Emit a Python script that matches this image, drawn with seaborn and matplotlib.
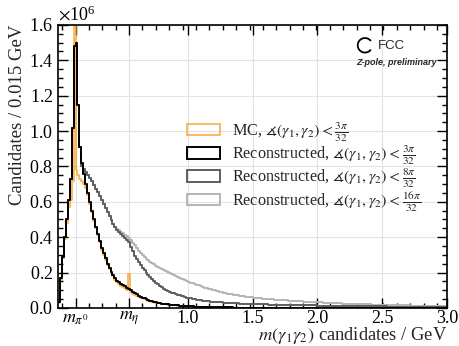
import numpy as np
import pandas as pd
import matplotlib
matplotlib.use("Agg")
import matplotlib.pyplot as plt
import seaborn as sns
from matplotlib.ticker import AutoMinorLocator, ScalarFormatter, FixedLocator, FixedFormatter
from matplotlib.patches import Arc, Rectangle

# ---- binning: 0.015 GeV bins from 0 to 3 GeV ----
BIN_WIDTH = 0.015
X_MIN, X_MAX = 0.0, 3.0
SCALE = 1e6  # candidate counts below are in millions

M_PI0 = 0.1349768
M_ETA = 0.547862

labels = [
    r"MC, $\measuredangle(\gamma_1, \gamma_2) < \frac{3\pi}{32}$",
    r"Reconstructed, $\measuredangle(\gamma_1, \gamma_2) < \frac{3\pi}{32}$",
    r"Reconstructed, $\measuredangle(\gamma_1, \gamma_2) < \frac{8\pi}{32}$",
    r"Reconstructed, $\measuredangle(\gamma_1, \gamma_2) < \frac{16\pi}{32}$",
]

# MC truth-matched pairs, opening angle < 3pi/32
mc_3pi = [
    0.030, 0.16, 0.28, 0.39, 0.48, 0.57, 0.61, 0.72, 2.40, 0.78,
    0.75, 0.73, 0.72, 0.70, 0.68, 0.64, 0.59, 0.54, 0.49, 0.45,
    0.41, 0.37, 0.33, 0.30, 0.27, 0.245, 0.22, 0.198, 0.178, 0.160,
    0.146, 0.135, 0.126, 0.118, 0.110, 0.102, 0.190, 0.090, 0.081, 0.074,
    0.068, 0.063, 0.058, 0.054, 0.050, 0.046, 0.042, 0.039, 0.035, 0.032,
    0.030, 0.028, 0.026, 0.024, 0.022, 0.020, 0.019, 0.017, 0.016, 0.015,
    0.014, 0.013, 0.012, 0.011, 0.010, 0.010, 0.009, 0.0088, 0.0083, 0.0078,
    0.0074, 0.0070, 0.0065, 0.0061, 0.0058, 0.0054, 0.0051, 0.0048, 0.0045, 0.0043,
    0.0040, 0.0038, 0.0036, 0.0034, 0.0032, 0.0030, 0.0028, 0.0026, 0.0025, 0.0024,
    0.0023, 0.0022, 0.0021, 0.0020, 0.0019, 0.0018, 0.0017, 0.0016, 0.0015, 0.0014,
    0.0014, 0.0013, 0.0013, 0.0012, 0.0012, 0.0011, 0.0011, 0.0010, 0.0010, 0.0010,
    0.0009, 0.0009, 0.0009, 0.0009, 0.0008, 0.0008, 0.0008, 0.0008, 0.0007, 0.0007,
    0.0007, 0.0007, 0.0007, 0.0006, 0.0006, 0.0006, 0.0006, 0.0006, 0.0006, 0.0005,
    0.0005, 0.0005, 0.0005, 0.0005, 0.0005, 0.0005, 0.0004, 0.0004, 0.0004, 0.0004,
    0.0004, 0.0004, 0.0004, 0.0004, 0.0004, 0.0003, 0.0003, 0.0003, 0.0003, 0.0003,
    0.0003, 0.0003, 0.0003, 0.0003, 0.0003, 0.0003, 0.0003, 0.0003, 0.0002, 0.0002,
    0.0002, 0.0002, 0.0002, 0.0002, 0.0002, 0.0002, 0.0002, 0.0002, 0.0002, 0.0002,
    0.0002, 0.0002, 0.0002, 0.0002, 0.0002, 0.0002, 0.0002, 0.0002, 0.0002, 0.0001,
    0.0001, 0.0001, 0.0001, 0.0001, 0.0001, 0.0001, 0.0001, 0.0001, 0.0001, 0.0001,
    0.0001, 0.0001, 0.0001, 0.0001, 0.0001, 0.0001, 0.0001, 0.0001, 0.0001, 0.0001,
]

# reconstructed pairs, opening angle < 3pi/32
reco_3pi = [
    0.035, 0.17, 0.29, 0.40, 0.50, 0.61, 0.73, 1.02, 1.48, 1.50,
    1.15, 0.91, 0.82, 0.76, 0.70, 0.65, 0.60, 0.55, 0.50, 0.46,
    0.42, 0.38, 0.34, 0.31, 0.28, 0.25, 0.225, 0.205, 0.185, 0.168,
    0.155, 0.145, 0.137, 0.130, 0.122, 0.115, 0.108, 0.100, 0.092, 0.084,
    0.077, 0.070, 0.064, 0.059, 0.054, 0.049, 0.045, 0.041, 0.037, 0.034,
    0.031, 0.029, 0.027, 0.025, 0.023, 0.021, 0.020, 0.018, 0.017, 0.016,
    0.015, 0.014, 0.013, 0.012, 0.011, 0.011, 0.010, 0.0095, 0.009, 0.0085,
    0.0080, 0.0075, 0.0070, 0.0066, 0.0062, 0.0058, 0.0055, 0.0052, 0.0049, 0.0046,
    0.0043, 0.0040, 0.0038, 0.0036, 0.0034, 0.0032, 0.0030, 0.0028, 0.0026, 0.0025,
    0.0024, 0.0023, 0.0022, 0.0021, 0.0020, 0.0019, 0.0018, 0.0017, 0.0016, 0.0015,
    0.0015, 0.0014, 0.0014, 0.0013, 0.0013, 0.0012, 0.0012, 0.0011, 0.0011, 0.0011,
    0.0010, 0.0010, 0.0010, 0.0009, 0.0009, 0.0009, 0.0009, 0.0008, 0.0008, 0.0008,
    0.0008, 0.0007, 0.0007, 0.0007, 0.0007, 0.0007, 0.0006, 0.0006, 0.0006, 0.0006,
    0.0006, 0.0006, 0.0005, 0.0005, 0.0005, 0.0005, 0.0005, 0.0005, 0.0005, 0.0004,
    0.0004, 0.0004, 0.0004, 0.0004, 0.0004, 0.0004, 0.0004, 0.0004, 0.0003, 0.0003,
    0.0003, 0.0003, 0.0003, 0.0003, 0.0003, 0.0003, 0.0003, 0.0003, 0.0003, 0.0003,
    0.0003, 0.0002, 0.0002, 0.0002, 0.0002, 0.0002, 0.0002, 0.0002, 0.0002, 0.0002,
    0.0002, 0.0002, 0.0002, 0.0002, 0.0002, 0.0002, 0.0002, 0.0002, 0.0002, 0.0002,
    0.0002, 0.0002, 0.0001, 0.0001, 0.0001, 0.0001, 0.0001, 0.0001, 0.0001, 0.0001,
    0.0001, 0.0001, 0.0001, 0.0001, 0.0001, 0.0001, 0.0001, 0.0001, 0.0001, 0.0001,
]

# reconstructed pairs, opening angle < 8pi/32
reco_8pi = [
    0.035, 0.17, 0.29, 0.40, 0.50, 0.61, 0.73, 1.02, 1.48, 1.50,
    1.15, 0.91, 0.80, 0.785, 0.77, 0.752, 0.735, 0.715, 0.695, 0.675,
    0.653, 0.632, 0.610, 0.588, 0.565, 0.542, 0.518, 0.496, 0.475, 0.457,
    0.443, 0.431, 0.420, 0.409, 0.398, 0.386, 0.372, 0.347, 0.320, 0.295,
    0.276, 0.259, 0.243, 0.227, 0.213, 0.199, 0.186, 0.174, 0.163, 0.152,
    0.142, 0.133, 0.124, 0.116, 0.109, 0.103, 0.097, 0.092, 0.087, 0.083,
    0.079, 0.075, 0.071, 0.068, 0.065, 0.062, 0.059, 0.056, 0.054, 0.051,
    0.049, 0.047, 0.045, 0.043, 0.041, 0.040, 0.038, 0.037, 0.036, 0.035,
    0.034, 0.033, 0.032, 0.031, 0.031, 0.030, 0.029, 0.029, 0.028, 0.027,
    0.027, 0.026, 0.026, 0.025, 0.025, 0.024, 0.024, 0.023, 0.023, 0.022,
    0.022, 0.022, 0.021, 0.021, 0.021, 0.020, 0.020, 0.020, 0.019, 0.019,
    0.019, 0.018, 0.018, 0.018, 0.018, 0.017, 0.017, 0.017, 0.017, 0.016,
    0.016, 0.016, 0.016, 0.015, 0.015, 0.015, 0.015, 0.015, 0.014, 0.014,
    0.014, 0.014, 0.014, 0.013, 0.013, 0.013, 0.013, 0.013, 0.013, 0.012,
    0.012, 0.012, 0.012, 0.012, 0.012, 0.011, 0.011, 0.011, 0.011, 0.011,
    0.011, 0.011, 0.010, 0.010, 0.010, 0.010, 0.010, 0.010, 0.010, 0.010,
    0.009, 0.009, 0.009, 0.009, 0.009, 0.009, 0.009, 0.009, 0.009, 0.008,
    0.008, 0.008, 0.008, 0.008, 0.008, 0.008, 0.008, 0.008, 0.007, 0.007,
    0.007, 0.007, 0.007, 0.007, 0.007, 0.007, 0.007, 0.007, 0.007, 0.006,
    0.006, 0.006, 0.006, 0.006, 0.006, 0.006, 0.006, 0.006, 0.006, 0.006,
]

# reconstructed pairs, opening angle < 16pi/32
reco_16pi = [
    0.035, 0.17, 0.29, 0.40, 0.50, 0.61, 0.73, 1.02, 1.48, 1.50,
    1.15, 0.91, 0.80, 0.785, 0.77, 0.752, 0.735, 0.715, 0.695, 0.675,
    0.653, 0.632, 0.610, 0.588, 0.565, 0.542, 0.518, 0.496, 0.476, 0.460,
    0.449, 0.439, 0.430, 0.422, 0.414, 0.406, 0.396, 0.384, 0.369, 0.353,
    0.338, 0.324, 0.311, 0.299, 0.288, 0.278, 0.269, 0.261, 0.253, 0.246,
    0.239, 0.232, 0.226, 0.220, 0.214, 0.208, 0.202, 0.197, 0.191, 0.186,
    0.181, 0.176, 0.171, 0.166, 0.161, 0.157, 0.152, 0.148, 0.143, 0.139,
    0.135, 0.131, 0.127, 0.123, 0.119, 0.115, 0.112, 0.108, 0.105, 0.102,
    0.099, 0.096, 0.093, 0.090, 0.088, 0.085, 0.083, 0.081, 0.079, 0.077,
    0.075, 0.073, 0.071, 0.069, 0.067, 0.066, 0.064, 0.063, 0.061, 0.060,
    0.058, 0.057, 0.056, 0.055, 0.054, 0.053, 0.052, 0.051, 0.050, 0.049,
    0.048, 0.047, 0.046, 0.046, 0.045, 0.044, 0.043, 0.043, 0.042, 0.041,
    0.040, 0.040, 0.039, 0.038, 0.038, 0.037, 0.036, 0.036, 0.035, 0.034,
    0.034, 0.033, 0.033, 0.032, 0.031, 0.031, 0.030, 0.030, 0.029, 0.029,
    0.028, 0.028, 0.027, 0.027, 0.026, 0.026, 0.025, 0.025, 0.025, 0.024,
    0.024, 0.023, 0.023, 0.022, 0.022, 0.022, 0.021, 0.021, 0.020, 0.020,
    0.020, 0.019, 0.019, 0.019, 0.018, 0.018, 0.018, 0.017, 0.017, 0.017,
    0.016, 0.016, 0.016, 0.016, 0.015, 0.015, 0.015, 0.014, 0.014, 0.014,
    0.014, 0.013, 0.013, 0.013, 0.013, 0.012, 0.012, 0.012, 0.012, 0.012,
    0.011, 0.011, 0.011, 0.011, 0.011, 0.010, 0.010, 0.010, 0.010, 0.010,
]

series = [mc_3pi, reco_3pi, reco_8pi, reco_16pi]
colors = ["#f89c20", "black", "#5e5e5e", "#b4b4b4"]
alphas = [0.7, 1.0, 1.0, 1.0]

n_bins = len(reco_3pi)
centers = X_MIN + BIN_WIDTH * (np.arange(n_bins) + 0.5)

frames = []
for lab, vals in zip(labels, series):
    frames.append(pd.DataFrame({"mass": centers,
                                "count": np.asarray(vals) * SCALE,
                                "sample": lab}))
df = pd.concat(frames, ignore_index=True)

# ---- style ----
sns.set_theme(style="ticks")
plt.rcParams["font.family"] = ["Liberation Serif", "DejaVu Serif"]
plt.rcParams["mathtext.fontset"] = "stix"
plt.rcParams["axes.linewidth"] = 1.2

fig, ax = plt.subplots(figsize=(4.59, 3.46), dpi=100)
fig.subplots_adjust(left=0.1264, right=0.974, bottom=0.110, top=0.928)

# draw back to front: loosest cut first, MC under the tight reco curve
for idx in [3, 2, 0, 1]:
    sub = df[df["sample"] == labels[idx]]
    sns.histplot(data=sub, x="mass", weights="count",
                 binwidth=BIN_WIDTH, binrange=(X_MIN, X_MAX),
                 element="step", fill=False, color=colors[idx],
                 alpha=alphas[idx], linewidth=1.4, ax=ax)

ax.set_xlim(X_MIN, X_MAX)
ax.set_ylim(0, 1.6e6)

# x axis: meson masses as named ticks
xt = [M_PI0, M_ETA, 1.0, 1.5, 2.0, 2.5, 3.0]
xtl = [r"$m_{\pi^0}$", r"$m_{\eta}$", "1.0", "1.5", "2.0", "2.5", "3.0"]
ax.xaxis.set_major_locator(FixedLocator(xt))
ax.xaxis.set_major_formatter(FixedFormatter(xtl))
ax.xaxis.set_minor_locator(AutoMinorLocator())

ax.set_yticks(np.arange(0, 1.61e6, 0.2e6))
fmt = ScalarFormatter(useMathText=True)
fmt.set_powerlimits((0, 0))
ax.yaxis.set_major_formatter(fmt)
ax.yaxis.set_minor_locator(AutoMinorLocator())
ax.yaxis.get_offset_text().set_fontsize(13)

ax.tick_params(which="both", direction="in", top=True, right=True,
               labelsize=13, width=1.0, colors="black")
ax.tick_params(which="major", length=7)
ax.tick_params(which="minor", length=3.5)
ax.tick_params(axis="x", which="major", pad=1.3)
ax.tick_params(axis="y", which="major", pad=3.5)

ax.grid(True, which="major", color="#e3e3e3", linewidth=0.8)
ax.set_axisbelow(True)
for s in ax.spines.values():
    s.set_color("black")

ax.set_xlabel(r"$m(\gamma_1\gamma_2)$ candidates / GeV", fontsize=13.3,
              loc="right")
ax.xaxis.set_label_coords(1.0, -0.061)
ax.set_ylabel("Candidates / 0.015 GeV", fontsize=13.5, loc="top", labelpad=2)

# legend with open boxes
handles = [Rectangle((0, 0), 1, 1, fill=False, edgecolor=c, alpha=a, linewidth=1.4)
           for c, a in zip(colors, alphas)]
ax.legend(handles, labels, loc="upper left", bbox_to_anchor=(0.332, 0.662),
          frameon=False, fontsize=11.6, handlelength=2.05, handleheight=0.68,
          handletextpad=0.75, labelspacing=0.0, borderpad=0, borderaxespad=0)

# FCC badge
cx, cy, d = 0.789, 0.928, 14.5
ax.add_patch(Arc((cx, cy), d / 389.0, d / 283.0, theta1=45, theta2=315,
                 transform=ax.transAxes, color="black", linewidth=1.3))
ax.text(0.823, 0.926, "FCC", transform=ax.transAxes, fontsize=9.5,
        family="Liberation Sans", va="center", ha="left")
ax.text(0.973, 0.867, "Z-pole, preliminary", transform=ax.transAxes,
        fontsize=6.5, family="Liberation Sans", style="italic",
        weight="bold", va="center", ha="right")

fig.savefig("out.png", dpi=100)
